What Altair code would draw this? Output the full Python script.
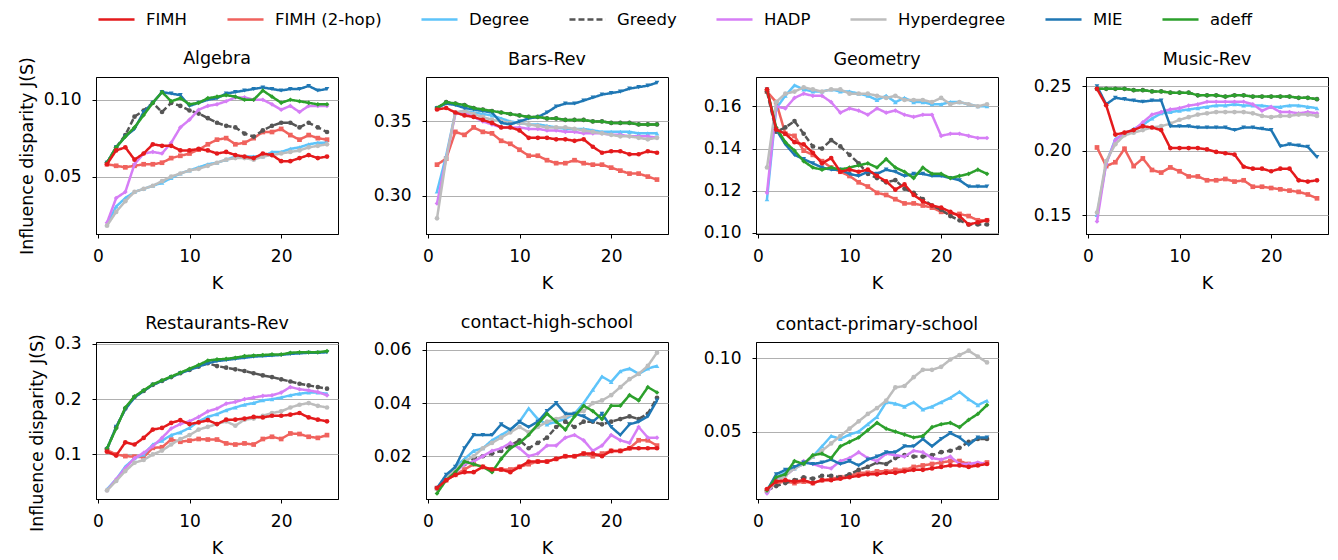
import altair as alt
import pandas as pd

# Budget values K = 1..25
K = list(range(1, 26))

methods = ["FIMH", "FIMH (2-hop)", "Degree", "Greedy", "HADP", "Hyperdegree", "MIE", "adeff"]
colors = ["#e41a1c", "#f0625d", "#5ec4fa", "#555555", "#d67ef6", "#bdbdbd", "#1f77b4", "#2ca02c"]
dashes = [[1, 0], [1, 0], [1, 0], [6, 3], [1, 0], [1, 0], [1, 0], [1, 0]]
marker_shapes = ["circle", "square", "triangle-up", "circle", "diamond", "circle", "triangle-down", "diamond"]
# later entries are painted on top
draw_order = ["FIMH (2-hop)", "Degree", "Greedy", "HADP", "Hyperdegree", "MIE", "adeff", "FIMH"]

algebra = {
    "FIMH": [0.058, 0.067, 0.069, 0.061, 0.065, 0.071, 0.070, 0.070, 0.067, 0.067, 0.068, 0.067, 0.065,
             0.066, 0.064, 0.063, 0.062, 0.065, 0.064, 0.060, 0.060, 0.062, 0.064, 0.062, 0.063],
    "FIMH (2-hop)": [0.058, 0.057, 0.056, 0.057, 0.058, 0.058, 0.059, 0.062, 0.0635, 0.065, 0.0675, 0.071, 0.074,
                     0.075, 0.071, 0.072, 0.075, 0.079, 0.079, 0.081, 0.077, 0.074, 0.077, 0.075, 0.074],
    "Degree": [0.019, 0.0305, 0.036, 0.040, 0.042, 0.044, 0.046, 0.049, 0.052, 0.054, 0.056, 0.058, 0.059,
               0.061, 0.063, 0.063, 0.063, 0.063, 0.066, 0.066, 0.068, 0.069, 0.071, 0.072, 0.072],
    "Greedy": [0.059, 0.069, 0.077, 0.089, 0.093, 0.098, 0.092, 0.098, 0.096, 0.093, 0.091, 0.088, 0.085,
               0.083, 0.082, 0.078, 0.076, 0.080, 0.083, 0.085, 0.085, 0.082, 0.085, 0.082, 0.079],
    "HADP": [0.020, 0.036, 0.040, 0.058, 0.065, 0.066, 0.065, 0.072, 0.082, 0.087, 0.0935, 0.096, 0.097,
             0.099, 0.1015, 0.1015, 0.100, 0.100, 0.097, 0.0935, 0.096, 0.092, 0.096, 0.096, 0.096],
    "Hyperdegree": [0.018, 0.027, 0.034, 0.040, 0.042, 0.044, 0.047, 0.050, 0.052, 0.054, 0.055, 0.057, 0.059,
                    0.061, 0.062, 0.062, 0.061, 0.063, 0.064, 0.065, 0.066, 0.067, 0.069, 0.070, 0.071],
    "MIE": [0.059, 0.069, 0.076, 0.081, 0.092, 0.098, 0.105, 0.104, 0.103, 0.096, 0.098, 0.100, 0.101,
            0.104, 0.105, 0.106, 0.107, 0.108, 0.107, 0.106, 0.107, 0.107, 0.109, 0.106, 0.107],
    "adeff": [0.059, 0.069, 0.076, 0.082, 0.090, 0.098, 0.105, 0.099, 0.101, 0.097, 0.098, 0.101, 0.102,
              0.103, 0.102, 0.100, 0.100, 0.106, 0.102, 0.098, 0.100, 0.099, 0.098, 0.097, 0.097],
}

bars_rev = {
    "FIMH": [0.358, 0.359, 0.356, 0.354, 0.353, 0.351, 0.349, 0.346, 0.346, 0.344, 0.339, 0.339, 0.339,
             0.338, 0.338, 0.337, 0.338, 0.333, 0.329, 0.330, 0.330, 0.328, 0.328, 0.330, 0.329],
    "FIMH (2-hop)": [0.321, 0.325, 0.343, 0.341, 0.346, 0.343, 0.342, 0.337, 0.335, 0.331, 0.327, 0.327, 0.324,
                     0.322, 0.322, 0.324, 0.322, 0.321, 0.321, 0.319, 0.317, 0.315, 0.315, 0.313, 0.311],
    "Degree": [0.303, 0.327, 0.356, 0.357, 0.356, 0.355, 0.354, 0.352, 0.350, 0.349, 0.348, 0.348, 0.347,
               0.346, 0.345, 0.345, 0.345, 0.344, 0.343, 0.343, 0.343, 0.343, 0.342, 0.342, 0.342],
    "Greedy": [0.359, 0.363, 0.362, 0.361, 0.359, 0.358, 0.357, 0.356, 0.355, 0.354, 0.353, 0.353, 0.352,
               0.352, 0.351, 0.351, 0.351, 0.350, 0.350, 0.349, 0.349, 0.349, 0.348, 0.348, 0.348],
    "HADP": [0.295, 0.325, 0.355, 0.356, 0.353, 0.350, 0.348, 0.346, 0.346, 0.346, 0.345, 0.345, 0.344,
             0.344, 0.343, 0.343, 0.342, 0.342, 0.342, 0.341, 0.341, 0.340, 0.340, 0.340, 0.339],
    "Hyperdegree": [0.285, 0.325, 0.356, 0.357, 0.355, 0.353, 0.351, 0.350, 0.349, 0.349, 0.348, 0.347, 0.346,
                    0.346, 0.346, 0.345, 0.344, 0.343, 0.342, 0.341, 0.340, 0.340, 0.339, 0.338, 0.339],
    "MIE": [0.359, 0.362, 0.361, 0.359, 0.358, 0.357, 0.356, 0.349, 0.348, 0.350, 0.352, 0.353, 0.356,
            0.360, 0.362, 0.362, 0.364, 0.366, 0.368, 0.369, 0.370, 0.372, 0.373, 0.374, 0.376],
    "adeff": [0.359, 0.363, 0.362, 0.361, 0.359, 0.358, 0.357, 0.356, 0.355, 0.354, 0.353, 0.353, 0.352,
              0.352, 0.351, 0.351, 0.351, 0.350, 0.350, 0.349, 0.349, 0.349, 0.348, 0.348, 0.348],
}

geometry = {
    "FIMH": [0.168, 0.149, 0.147, 0.143, 0.142, 0.138, 0.133, 0.1355, 0.129, 0.130, 0.129, 0.130, 0.127,
             0.1245, 0.1205, 0.123, 0.118, 0.115, 0.113, 0.112, 0.110, 0.108, 0.104, 0.105, 0.106],
    "FIMH (2-hop)": [0.167, 0.162, 0.147, 0.146, 0.139, 0.137, 0.134, 0.131, 0.129, 0.127, 0.124, 0.122, 0.119,
                     0.118, 0.116, 0.114, 0.114, 0.113, 0.112, 0.110, 0.109, 0.109, 0.108, 0.106, 0.106],
    "Degree": [0.116, 0.159, 0.165, 0.170, 0.168, 0.167, 0.167, 0.168, 0.167, 0.167, 0.166, 0.165, 0.163,
               0.165, 0.162, 0.164, 0.162, 0.162, 0.161, 0.161, 0.162, 0.162, 0.161, 0.160, 0.160],
    "Greedy": [0.167, 0.148, 0.150, 0.153, 0.147, 0.141, 0.140, 0.144, 0.141, 0.137, 0.133, 0.128, 0.126,
               0.124, 0.125, 0.121, 0.119, 0.116, 0.113, 0.111, 0.108, 0.106, 0.104, 0.104, 0.104],
    "HADP": [0.119, 0.160, 0.159, 0.164, 0.166, 0.165, 0.165, 0.162, 0.157, 0.159, 0.158, 0.156, 0.159,
             0.157, 0.158, 0.156, 0.155, 0.156, 0.156, 0.146, 0.147, 0.147, 0.146, 0.145, 0.145],
    "Hyperdegree": [0.131, 0.162, 0.166, 0.167, 0.169, 0.168, 0.167, 0.168, 0.168, 0.166, 0.166, 0.166, 0.165,
                    0.164, 0.165, 0.163, 0.163, 0.163, 0.162, 0.164, 0.161, 0.162, 0.161, 0.160, 0.161],
    "MIE": [0.168, 0.149, 0.142, 0.137, 0.135, 0.133, 0.131, 0.130, 0.130, 0.128, 0.127, 0.129, 0.128,
            0.130, 0.129, 0.127, 0.128, 0.128, 0.127, 0.127, 0.126, 0.125, 0.122, 0.122, 0.122],
    "adeff": [0.168, 0.150, 0.143, 0.139, 0.134, 0.131, 0.130, 0.131, 0.130, 0.131, 0.132, 0.133, 0.131,
              0.135, 0.131, 0.129, 0.126, 0.131, 0.128, 0.128, 0.126, 0.127, 0.128, 0.130, 0.128],
}

music_rev = {
    "FIMH": [0.248, 0.2353, 0.2125, 0.214, 0.216, 0.219, 0.218, 0.216, 0.202, 0.202, 0.202, 0.202, 0.201,
             0.199, 0.198, 0.197, 0.1875, 0.186, 0.186, 0.184, 0.186, 0.186, 0.177, 0.176, 0.177],
    "FIMH (2-hop)": [0.2025, 0.188, 0.191, 0.2015, 0.188, 0.194, 0.185, 0.183, 0.187, 0.184, 0.180, 0.180, 0.177,
                     0.177, 0.178, 0.176, 0.177, 0.172, 0.172, 0.171, 0.170, 0.169, 0.168, 0.166, 0.163],
    "Degree": [0.150, 0.190, 0.209, 0.213, 0.217, 0.220, 0.225, 0.229, 0.230, 0.231, 0.232, 0.233, 0.234,
               0.235, 0.235, 0.236, 0.235, 0.235, 0.235, 0.234, 0.234, 0.235, 0.235, 0.234, 0.233],
    "Greedy": [0.248, 0.248, 0.248, 0.248, 0.247, 0.247, 0.246, 0.246, 0.245, 0.245, 0.245, 0.243, 0.243,
               0.243, 0.242, 0.243, 0.243, 0.242, 0.242, 0.242, 0.242, 0.242, 0.241, 0.241, 0.240],
    "HADP": [0.145, 0.190, 0.208, 0.214, 0.216, 0.222, 0.228, 0.230, 0.232, 0.233, 0.235, 0.236, 0.238,
             0.238, 0.238, 0.238, 0.238, 0.236, 0.231, 0.234, 0.230, 0.230, 0.229, 0.230, 0.229],
    "Hyperdegree": [0.152, 0.192, 0.205, 0.212, 0.214, 0.216, 0.218, 0.219, 0.221, 0.224, 0.226, 0.228, 0.229,
                    0.230, 0.230, 0.230, 0.230, 0.229, 0.227, 0.226, 0.227, 0.227, 0.228, 0.228, 0.227],
    "MIE": [0.250, 0.236, 0.241, 0.240, 0.239, 0.238, 0.239, 0.239, 0.219, 0.219, 0.219, 0.218, 0.218,
            0.218, 0.218, 0.216, 0.218, 0.218, 0.217, 0.216, 0.2035, 0.205, 0.204, 0.203, 0.195],
    "adeff": [0.248, 0.248, 0.248, 0.248, 0.247, 0.247, 0.246, 0.246, 0.245, 0.245, 0.245, 0.243, 0.243,
              0.243, 0.242, 0.243, 0.243, 0.242, 0.242, 0.242, 0.242, 0.242, 0.241, 0.241, 0.240],
}

restaurants_rev = {
    "FIMH": [0.105, 0.098, 0.122, 0.118, 0.130, 0.145, 0.148, 0.157, 0.162, 0.155, 0.158, 0.162, 0.155,
             0.163, 0.163, 0.165, 0.168, 0.167, 0.170, 0.170, 0.172, 0.175, 0.167, 0.163, 0.160],
    "FIMH (2-hop)": [0.108, 0.100, 0.097, 0.096, 0.095, 0.112, 0.113, 0.127, 0.123, 0.125, 0.128, 0.127, 0.127,
                     0.120, 0.118, 0.120, 0.118, 0.128, 0.132, 0.128, 0.138, 0.137, 0.132, 0.130, 0.135],
    "Degree": [0.037, 0.055, 0.078, 0.093, 0.100, 0.118, 0.125, 0.135, 0.140, 0.148, 0.160, 0.168, 0.173,
               0.180, 0.185, 0.190, 0.193, 0.198, 0.200, 0.203, 0.207, 0.210, 0.212, 0.212, 0.210],
    "Greedy": [0.110, 0.149, 0.183, 0.204, 0.215, 0.226, 0.233, 0.240, 0.247, 0.253, 0.259, 0.265, 0.260,
               0.257, 0.254, 0.251, 0.247, 0.243, 0.240, 0.236, 0.232, 0.228, 0.225, 0.222, 0.219],
    "HADP": [0.035, 0.055, 0.075, 0.093, 0.103, 0.115, 0.130, 0.147, 0.155, 0.160, 0.168, 0.178, 0.183,
             0.192, 0.195, 0.200, 0.203, 0.206, 0.207, 0.212, 0.222, 0.218, 0.216, 0.213, 0.207],
    "Hyperdegree": [0.035, 0.052, 0.070, 0.085, 0.090, 0.100, 0.107, 0.118, 0.128, 0.135, 0.145, 0.150, 0.155,
                    0.160, 0.152, 0.163, 0.165, 0.170, 0.175, 0.178, 0.185, 0.190, 0.193, 0.188, 0.185],
    "MIE": [0.110, 0.150, 0.182, 0.203, 0.215, 0.226, 0.233, 0.240, 0.247, 0.253, 0.259, 0.265, 0.269,
            0.271, 0.273, 0.275, 0.277, 0.278, 0.279, 0.280, 0.282, 0.283, 0.284, 0.284, 0.285],
    "adeff": [0.111, 0.147, 0.185, 0.205, 0.216, 0.227, 0.234, 0.241, 0.248, 0.255, 0.262, 0.270, 0.272,
              0.273, 0.275, 0.278, 0.279, 0.280, 0.281, 0.281, 0.284, 0.285, 0.285, 0.285, 0.287],
}

contact_high_school = {
    "FIMH": [0.008, 0.011, 0.013, 0.014, 0.014, 0.016, 0.015, 0.015, 0.014, 0.016, 0.018, 0.018, 0.018,
             0.019, 0.020, 0.020, 0.021, 0.021, 0.020, 0.022, 0.022, 0.023, 0.023, 0.023, 0.023],
    "FIMH (2-hop)": [0.008, 0.011, 0.013, 0.015, 0.017, 0.016, 0.015, 0.015, 0.015, 0.016, 0.017, 0.018, 0.018,
                     0.019, 0.020, 0.020, 0.021, 0.020, 0.021, 0.022, 0.022, 0.023, 0.026, 0.026, 0.024],
    "Degree": [0.008, 0.012, 0.016, 0.019, 0.022, 0.023, 0.026, 0.028, 0.030, 0.033, 0.038, 0.034, 0.032,
               0.033, 0.034, 0.036, 0.040, 0.045, 0.050, 0.048, 0.052, 0.053, 0.051, 0.053, 0.054],
    "Greedy": [0.008, 0.012, 0.015, 0.017, 0.019, 0.020, 0.021, 0.022, 0.024, 0.026, 0.023, 0.025, 0.027,
               0.031, 0.033, 0.031, 0.033, 0.033, 0.032, 0.033, 0.034, 0.035, 0.034, 0.036, 0.042],
    "HADP": [0.008, 0.012, 0.014, 0.017, 0.018, 0.020, 0.022, 0.023, 0.025, 0.023, 0.020, 0.021, 0.024,
             0.024, 0.027, 0.028, 0.026, 0.022, 0.024, 0.028, 0.026, 0.025, 0.031, 0.027, 0.027],
    "Hyperdegree": [0.008, 0.012, 0.015, 0.018, 0.020, 0.023, 0.025, 0.027, 0.029, 0.031, 0.029, 0.031, 0.033,
                    0.034, 0.035, 0.036, 0.037, 0.040, 0.041, 0.043, 0.046, 0.049, 0.051, 0.054, 0.059],
    "MIE": [0.008, 0.013, 0.016, 0.023, 0.028, 0.028, 0.028, 0.032, 0.030, 0.033, 0.031, 0.033, 0.037,
            0.040, 0.036, 0.036, 0.035, 0.033, 0.036, 0.031, 0.028, 0.032, 0.033, 0.035, 0.041],
    "adeff": [0.006, 0.011, 0.014, 0.018, 0.017, 0.016, 0.014, 0.019, 0.023, 0.025, 0.028, 0.032, 0.036,
              0.033, 0.030, 0.035, 0.039, 0.037, 0.034, 0.039, 0.039, 0.043, 0.041, 0.046, 0.044],
}

contact_primary_school = {
    "FIMH": [0.011, 0.016, 0.017, 0.016, 0.017, 0.015, 0.017, 0.017, 0.018, 0.019, 0.020, 0.021, 0.021,
             0.022, 0.022, 0.023, 0.024, 0.024, 0.025, 0.026, 0.027, 0.027, 0.026, 0.027, 0.028],
    "FIMH (2-hop)": [0.010, 0.015, 0.016, 0.015, 0.016, 0.015, 0.017, 0.018, 0.019, 0.020, 0.022, 0.022, 0.023,
                     0.023, 0.024, 0.024, 0.026, 0.027, 0.028, 0.029, 0.030, 0.030, 0.028, 0.028, 0.029],
    "Degree": [0.010, 0.019, 0.022, 0.025, 0.028, 0.033, 0.040, 0.047, 0.045, 0.048, 0.050, 0.055, 0.060,
               0.070, 0.069, 0.067, 0.070, 0.065, 0.067, 0.070, 0.073, 0.077, 0.072, 0.068, 0.071],
    "Greedy": [0.010, 0.013, 0.015, 0.017, 0.019, 0.018, 0.020, 0.020, 0.019, 0.021, 0.024, 0.026, 0.029,
               0.028, 0.032, 0.034, 0.033, 0.033, 0.034, 0.036, 0.037, 0.039, 0.043, 0.045, 0.045],
    "HADP": [0.008, 0.017, 0.020, 0.025, 0.030, 0.028, 0.026, 0.025, 0.030, 0.032, 0.036, 0.032, 0.030,
             0.035, 0.034, 0.033, 0.037, 0.036, 0.032, 0.031, 0.033, 0.028, 0.028, 0.029, 0.028],
    "Hyperdegree": [0.010, 0.016, 0.020, 0.025, 0.028, 0.033, 0.037, 0.042, 0.047, 0.052, 0.057, 0.062, 0.066,
                    0.071, 0.080, 0.081, 0.087, 0.092, 0.092, 0.094, 0.099, 0.102, 0.105, 0.101, 0.097],
    "MIE": [0.010, 0.021, 0.024, 0.026, 0.029, 0.028, 0.029, 0.031, 0.028, 0.030, 0.027, 0.031, 0.033,
            0.036, 0.036, 0.040, 0.040, 0.045, 0.040, 0.045, 0.049, 0.046, 0.041, 0.046, 0.046],
    "adeff": [0.010, 0.019, 0.021, 0.030, 0.028, 0.034, 0.035, 0.032, 0.040, 0.043, 0.046, 0.051, 0.056,
              0.052, 0.050, 0.048, 0.046, 0.047, 0.053, 0.055, 0.056, 0.053, 0.058, 0.062, 0.068],
}

# (title, series, y domain, y tick values, y tick format)
panels = [
    ("Algebra", algebra, [0.0126, 0.1148], [0.05, 0.10], ".2f"),
    ("Bars-Rev", bars_rev, [0.2745, 0.3798], [0.30, 0.35], ".2f"),
    ("Geometry", geometry, [0.0995, 0.1739], [0.10, 0.12, 0.14, 0.16], ".2f"),
    ("Music-Rev", music_rev, [0.1353, 0.2572], [0.15, 0.20, 0.25], ".2f"),
    ("Restaurants-Rev", restaurants_rev, [0.0194, 0.3035], [0.1, 0.2, 0.3], ".1f"),
    ("contact-high-school", contact_high_school, [0.0039, 0.0630], [0.02, 0.04, 0.06], ".2f"),
    ("contact-primary-school", contact_primary_school, [0.0042, 0.1109], [0.05, 0.10], ".2f"),
]

FONT = "DejaVu Sans"
Y_TITLE = "Influence disparity J(S)"
PANEL_W, PANEL_H = 242, 157

legend = alt.Legend(
    title=None, orient="none", legendX=1, legendY=-77, direction="horizontal", columns=8,
    symbolType="stroke", symbolSize=1300, symbolStrokeWidth=2.5, labelFontSize=16.5,
    labelFont=FONT, labelColor="black", labelOffset=10, columnPadding=34,
)
color_enc = alt.Color("method:N", scale=alt.Scale(domain=methods, range=colors), legend=legend)
dash_enc = alt.StrokeDash("method:N", scale=alt.Scale(domain=methods, range=dashes), legend=legend)
color_of = dict(zip(methods, colors))
shape_of = dict(zip(methods, marker_shapes))


def make_panel(title, series, y_domain, y_ticks, y_fmt, y_title_pos, title_dy):
    df = pd.DataFrame(
        [{"K": k, "method": m, "value": v} for m in methods for k, v in zip(K, series[m])]
    )
    x = alt.X("K:Q", scale=alt.Scale(domain=[-0.2, 26.2], nice=False, zero=False),
              axis=alt.Axis(values=[0, 10, 20], title="K", grid=False))
    if y_title_pos is not None:
        y_axis = alt.Axis(values=y_ticks, format=y_fmt, grid=True, title=Y_TITLE, titleY=y_title_pos)
    else:
        y_axis = alt.Axis(values=y_ticks, format=y_fmt, grid=True, title=None)
    y = alt.Y("value:Q", scale=alt.Scale(domain=y_domain, nice=False, zero=False), axis=y_axis)
    layers = []
    for m in draw_order:
        sub = alt.Chart(df).transform_filter(alt.datum.method == m)
        layers.append(sub.mark_line(strokeWidth=2.5, clip=True).encode(
            x=x, y=y, color=color_enc, strokeDash=dash_enc))
        layers.append(sub.mark_point(filled=True, size=22, opacity=1, clip=True).encode(
            x=x, y=y, color=alt.value(color_of[m]), shape=alt.value(shape_of[m])))
    panel_title = alt.TitleParams(text=title, frame="group", anchor="middle", offset=9, dy=title_dy,
                                  fontSize=17.5, font=FONT, fontWeight="normal", color="black")
    return alt.layer(*layers).properties(title=panel_title, width=PANEL_W, height=PANEL_H)


# left-column panels carry the rotated y title, which reaches above the plot;
# their panel titles are nudged down by that overhang
title_pos = {0: PANEL_H / 2, 4: PANEL_H / 2 + 12}
title_dy = {0: 20, 4: 8}
charts = [
    make_panel(t, s, d, ticks, f, title_pos.get(i), title_dy.get(i, 0))
    for i, (t, s, d, ticks, f) in enumerate(panels)
]

chart = (
    alt.concat(*charts, columns=4, spacing=alt.RowColnumber(row=108, column=88), bounds="flush")
    .resolve_scale(x="independent", y="independent")
    .properties(padding={"left": 17, "top": 0, "right": 5, "bottom": 5})
    .configure(font=FONT)
    .configure_view(stroke="black", strokeWidth=1)
    .configure_axis(
        labelFontSize=17, labelColor="black", labelFont=FONT,
        titleFontSize=17.5, titleColor="black", titleFont=FONT, titleFontWeight="normal",
        tickColor="black", tickSize=4, domainColor="black", domain=True,
        gridColor="#b0b0b0", gridWidth=1,
    )
    .configure_axisY(titlePadding=7, labelPadding=11)
    .configure_axisX(titlePadding=10, labelPadding=10)
)

chart.save("out.html", embed_options={"renderer": "svg", "actions": False})
